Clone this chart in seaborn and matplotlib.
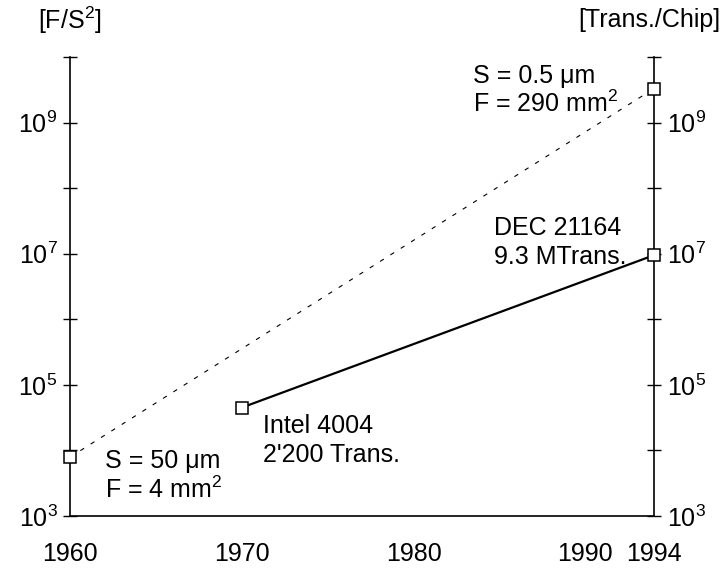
import matplotlib
matplotlib.use("Agg")
import matplotlib.pyplot as plt
import seaborn as sns
import pandas as pd
import numpy as np

# data
years_fs = [1960, 1994]
fs_values = [7.9e3, 3.3e9]
years_chip = [1970, 1994]
chip_values = [4.5e4, 9.5e6]
x_ticks = [1960, 1965, 1970, 1975, 1980, 1985, 1990, 1994]
x_labels = ["1960", "", "1970", "", "1980", "", "1990", "1994"]
y_exponents = [3, 4, 5, 6, 7, 8, 9, 10]

sns.set_theme(style="white")
plt.rcParams['font.family'] = ['Liberation Sans', 'DejaVu Sans']
plt.rcParams['mathtext.fontset'] = 'custom'
plt.rcParams['mathtext.rm'] = 'Liberation Sans'
plt.rcParams['mathtext.it'] = 'Liberation Sans'

FS = 18

fig = plt.figure(figsize=(7.24, 5.69), dpi=100)
ax = fig.add_axes([70/724, 1-516/569, 584/724, (516-57)/569])
ax2 = ax.twinx()

df_fs = pd.DataFrame({"year": years_fs, "value": fs_values})
df_chip = pd.DataFrame({"year": years_chip, "value": chip_values})

sns.lineplot(data=df_fs, x="year", y="value", ax=ax, color="black",
             linewidth=0.8, linestyle=(0, (4, 7)))
sns.lineplot(data=df_chip, x="year", y="value", ax=ax, color="black",
             linewidth=1.6)
ax.plot(years_fs, fs_values, linestyle="none", marker="s", markersize=9,
        markerfacecolor="white", markeredgecolor="black", markeredgewidth=1.1,
        clip_on=False, zorder=5)
ax.plot(years_chip, chip_values, linestyle="none", marker="s", markersize=9,
        markerfacecolor="white", markeredgecolor="black", markeredgewidth=1.1,
        clip_on=False, zorder=5)

ax.set_yscale("log")
ax.set_xlim(1960, 1994)
ax.set_ylim(1e3, 1e10)
ax.set_xlabel("")
ax.set_ylabel("")

ytick_vals = [10.0**e for e in y_exponents]
ylabels = [rf"$10^{{{e}}}$" if e % 2 == 1 else "" for e in y_exponents]
ax.set_yticks(ytick_vals)
ax.set_yticklabels(ylabels)
ax.yaxis.set_minor_locator(matplotlib.ticker.NullLocator())
ax.set_xticks(x_ticks)
ax.set_xticklabels(x_labels)

ax.spines["top"].set_visible(False)
ax.spines["right"].set_visible(False)
for s in ["left", "bottom"]:
    ax.spines[s].set_color("black")
    ax.spines[s].set_linewidth(1.2)

ax.tick_params(axis="both", direction="inout", length=10, width=1.0,
               color="black", labelsize=FS, labelcolor="black")
ax.tick_params(axis="x", pad=14)
ax.tick_params(axis="y", left=True, pad=4)

ax2.set_yscale("log")
ax2.set_ylim(1e3, 1e10)
ax2.set_yticks(ytick_vals)
ax2.set_yticklabels(ylabels)
ax2.yaxis.set_minor_locator(matplotlib.ticker.NullLocator())
ax2.spines["top"].set_visible(False)
ax2.spines["left"].set_visible(False)
ax2.spines["bottom"].set_visible(False)
ax2.spines["right"].set_color("black")
ax2.spines["right"].set_linewidth(1.2)
ax2.tick_params(axis="y", right=True, direction="inout", length=10, width=1.0,
                color="black", labelsize=FS, labelcolor="black", pad=4)
ax2.grid(False)
ax.grid(False)

ax.set_zorder(ax2.get_zorder() + 1)
ax.patch.set_visible(False)

def px(xp, yp):
    return (xp / 724, 1 - yp / 569)

def label(xp, yp, s, ha="left"):
    fig.text(*px(xp, yp), s, ha=ha, va="center", fontsize=FS, color="black")

label(473, 76, "S = 0.5 μm")
label(473, 104, r"F = 290 mm$^2$")
label(494, 228, "DEC 21164")
label(494, 257, "9.3 MTrans.")
label(263, 426, "Intel 4004")
label(263, 455, "2'200 Trans.")
label(105, 461, "S = 50 μm")
label(105, 490, r"F = 4 mm$^2$")
label(70, 20, r"[F/S$^2$]", ha="center")
label(720, 20, "[Trans./Chip]", ha="right")

fig.savefig("out.png", dpi=100)
